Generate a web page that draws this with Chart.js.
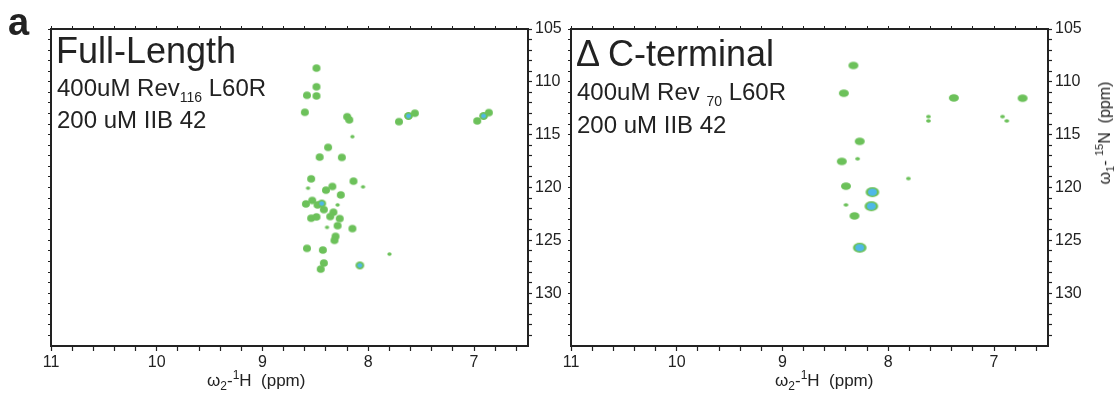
<!DOCTYPE html>
<html>
<head>
<meta charset="utf-8">
<script src="https://cdn.jsdelivr.net/npm/chart.js@4/dist/chart.umd.min.js"></script>
<style>
  body { margin: 0; background: #fff; }
  #wrap { position: relative; width: 1117px; height: 402px; overflow: hidden; font-family: 'Liberation Sans', Arial, sans-serif; color: #222; }
  canvas { position: absolute; top: 0; }
  .txt { position: absolute; line-height: 1; white-space: nowrap; }
  .sub { font-size: 14px; position: relative; top: 6px; }
</style>
</head>
<body>
<div id="wrap">
  <canvas id="left" width="570" height="402" style="left:0"></canvas>
  <canvas id="right" width="557" height="402" style="left:560px"></canvas>

  <div class="txt" style="left:8px;top:3px;font-size:38px;font-weight:bold">a</div>

  <div class="txt" style="left:56px;top:33px;font-size:36px">Full-Length</div>
  <div class="txt" style="left:57px;top:76px;font-size:24px">400uM Rev<span class="sub">116</span> L60R</div>
  <div class="txt" style="left:57px;top:108px;font-size:24px">200 uM IIB 42</div>

  <div class="txt" style="left:576px;top:36px;font-size:36px">&Delta; C-terminal</div>
  <div class="txt" style="left:577px;top:80px;font-size:24px">400uM Rev <span class="sub">70</span> L60R</div>
  <div class="txt" style="left:577px;top:113px;font-size:24px">200 uM IIB 42</div>

  <div class="txt" style="left:207px;top:372px;font-size:17px">&omega;<span style="font-size:12px;position:relative;top:4px">2</span>-<span style="font-size:12px;position:relative;top:-7px">1</span>H&nbsp;&nbsp;(ppm)</div>
  <div class="txt" style="left:775px;top:372px;font-size:17px">&omega;<span style="font-size:12px;position:relative;top:4px">2</span>-<span style="font-size:12px;position:relative;top:-7px">1</span>H&nbsp;&nbsp;(ppm)</div>

  <div class="txt" style="left:1105px;top:133px;font-size:16px;transform:translate(-50%,-50%) rotate(-90deg)">&omega;<span style="font-size:11px;position:relative;top:4px">1</span>-&nbsp;<span style="font-size:11px;position:relative;top:-7px">15</span>N&nbsp;&nbsp;(ppm)</div>
</div>

<script>
// axis ranges and tick labels
const xMajorTicks = [11, 10, 9, 8, 7];
const yMajorTicks = [105, 110, 115, 120, 125, 130];

// Full-Length: 1H shift, 15N shift, intensity level (1 weak, 2 normal, 3 strong)
const fullLengthH = [8.49, 8.49, 8.49, 8.58, 8.60, 8.20, 8.18, 7.71, 7.62, 7.56, 6.97, 6.91, 6.86,
  8.15, 8.38, 8.46, 8.25, 8.54, 8.14, 8.05, 8.57, 8.34, 8.40, 8.26, 8.53, 8.44, 8.48, 8.59,
  8.29, 8.42, 8.33, 8.36, 8.27, 8.54, 8.49, 8.39, 8.29, 8.15, 8.31, 8.32, 8.58, 8.43, 7.80,
  8.42, 8.45, 8.08];
const fullLengthN = [108.70, 110.47, 111.33, 111.27, 112.88, 113.30, 113.60, 113.77, 113.23, 112.97, 113.70, 113.23, 112.91,
  115.19, 116.20, 117.12, 117.15, 119.18, 119.40, 119.94, 120.06, 119.90, 120.25, 120.70, 121.23, 121.52, 121.65, 121.55,
  121.65, 122.09, 122.34, 122.75, 122.94, 122.91, 122.78, 123.77, 123.61, 123.89, 124.62, 125.00, 125.76, 125.92, 126.30,
  127.15, 127.72, 127.37];
const fullLengthLevel = [2, 2, 2, 2, 2, 2, 2, 2, 3, 2, 2, 3, 2,
  1, 2, 2, 2, 2, 2, 1, 1, 2, 2, 2, 2, 3, 2, 2,
  1, 2, 2, 2, 2, 2, 2, 1, 2, 2, 2, 2, 2, 2, 1,
  2, 2, 3];

// Delta C-terminal
const deltaCH = [8.33, 8.42, 7.38, 6.73, 7.62, 7.62, 6.92, 6.88, 8.27, 8.29, 8.44, 7.81, 8.40, 8.15, 8.16, 8.40, 8.32, 8.27];
const deltaCN = [108.45, 111.08, 111.52, 111.55, 113.29, 113.70, 113.29, 113.70, 115.63, 117.28, 117.53, 119.15, 119.87, 120.44, 121.77, 121.65, 122.69, 125.70];
const deltaCLevel = [2, 2, 2, 2, 1, 1, 1, 1, 2, 1, 2, 1, 2, 3, 3, 1, 2, 3];

const green = '#6cc15a';
const cyan = '#4fb8e8';
const ink = '#222';

// small ellipse sprite used as a point style (contour blobs are a bit wider than tall)
const spriteCache = {};
function blob(rx, ry, color) {
  const key = rx + '_' + ry + '_' + color;
  if (spriteCache[key]) return spriteCache[key];
  const c = document.createElement('canvas');
  c.width = Math.ceil(rx * 2) + 2;
  c.height = Math.ceil(ry * 2) + 2;
  const g = c.getContext('2d');
  g.fillStyle = color;
  g.beginPath();
  g.ellipse(c.width / 2, c.height / 2, rx, ry, 0, 0, Math.PI * 2);
  g.fill();
  spriteCache[key] = c;
  return c;
}

function makePanel(id, hs, ns, levels, cfg) {
  const pts = hs.map((h, i) => ({ x: h, y: ns[i], level: levels[i] }));
  const strong = pts.filter(p => p.level === 3);

  const xTicks = [];
  for (let v = 110; v >= 66; v -= 2) xTicks.push(v / 10);
  const yTicks = [];
  for (let v = 105; v <= 134; v++) yTicks.push(v);

  const xBase = {
    type: 'linear', min: 6.49, max: 11, reverse: true,
    afterBuildTicks: s => { s.ticks = xTicks.map(v => ({ value: v })); },
    grid: { drawOnChartArea: false, tickLength: 5, tickColor: ink, tickWidth: 1.2 },
    border: { color: ink, width: 2 }
  };
  const yBase = {
    type: 'linear', min: 105, max: 135, reverse: true,
    afterBuildTicks: s => { s.ticks = yTicks.map(v => ({ value: v })); },
    grid: { drawOnChartArea: false, tickLength: 4, tickColor: ink, tickWidth: 1.2 },
    border: { color: ink, width: 2 }
  };

  new Chart(document.getElementById(id), {
    type: 'scatter',
    data: {
      datasets: [
        {
          data: strong,
          pointStyle: () => blob(cfg.cyan[0], cfg.cyan[1], cyan)
        },
        {
          data: pts,
          pointStyle: ctx => {
            const s = cfg.sizes[ctx.raw.level];
            return blob(s[0], s[1], green);
          }
        }
      ]
    },
    options: {
      responsive: false,
      animation: false,
      devicePixelRatio: 1,
      layout: { padding: { left: cfg.padLeft, top: 25, right: 0, bottom: 0 } },
      plugins: { legend: { display: false }, tooltip: { enabled: false } },
      scales: {
        x: Object.assign({}, xBase, {
          position: 'bottom',
          ticks: {
            autoSkip: false, maxRotation: 0, padding: 2, color: ink,
            font: { family: 'Liberation Sans', size: 16 },
            callback: v => xMajorTicks.includes(Math.round(v * 10) / 10) ? Math.round(v) : ''
          },
          afterFit: s => { s.height = 56; }
        }),
        x2: Object.assign({}, xBase, {
          position: 'top',
          ticks: { display: false },
          grid: { drawOnChartArea: false, tickLength: 3, tickColor: ink, tickWidth: 1 },
          afterFit: s => { s.height = 4; }
        }),
        y: Object.assign({}, yBase, {
          position: 'right',
          ticks: {
            autoSkip: false, padding: 3, color: ink,
            font: { family: 'Liberation Sans', size: 16 },
            callback: v => yMajorTicks.includes(v) ? v : ''
          },
          afterFit: s => { s.width = cfg.rightW; }
        }),
        y2: Object.assign({}, yBase, {
          position: 'left',
          ticks: { display: false },
          grid: { drawOnChartArea: false, tickLength: 3, tickColor: ink, tickWidth: 1 },
          afterFit: s => { s.width = 4; }
        })
      }
    }
  });
}

makePanel('left', fullLengthH, fullLengthN, fullLengthLevel,
  { padLeft: 47, rightW: 42, sizes: { 1: [2.2, 1.8], 2: [4, 3.8], 3: [4.4, 4] }, cyan: [2.4, 2.2] });
makePanel('right', deltaCH, deltaCN, deltaCLevel,
  { padLeft: 7, rightW: 69, sizes: { 1: [2.4, 1.8], 2: [5, 3.8], 3: [6.8, 5] }, cyan: [4.4, 3.4] });
</script>
</body>
</html>
